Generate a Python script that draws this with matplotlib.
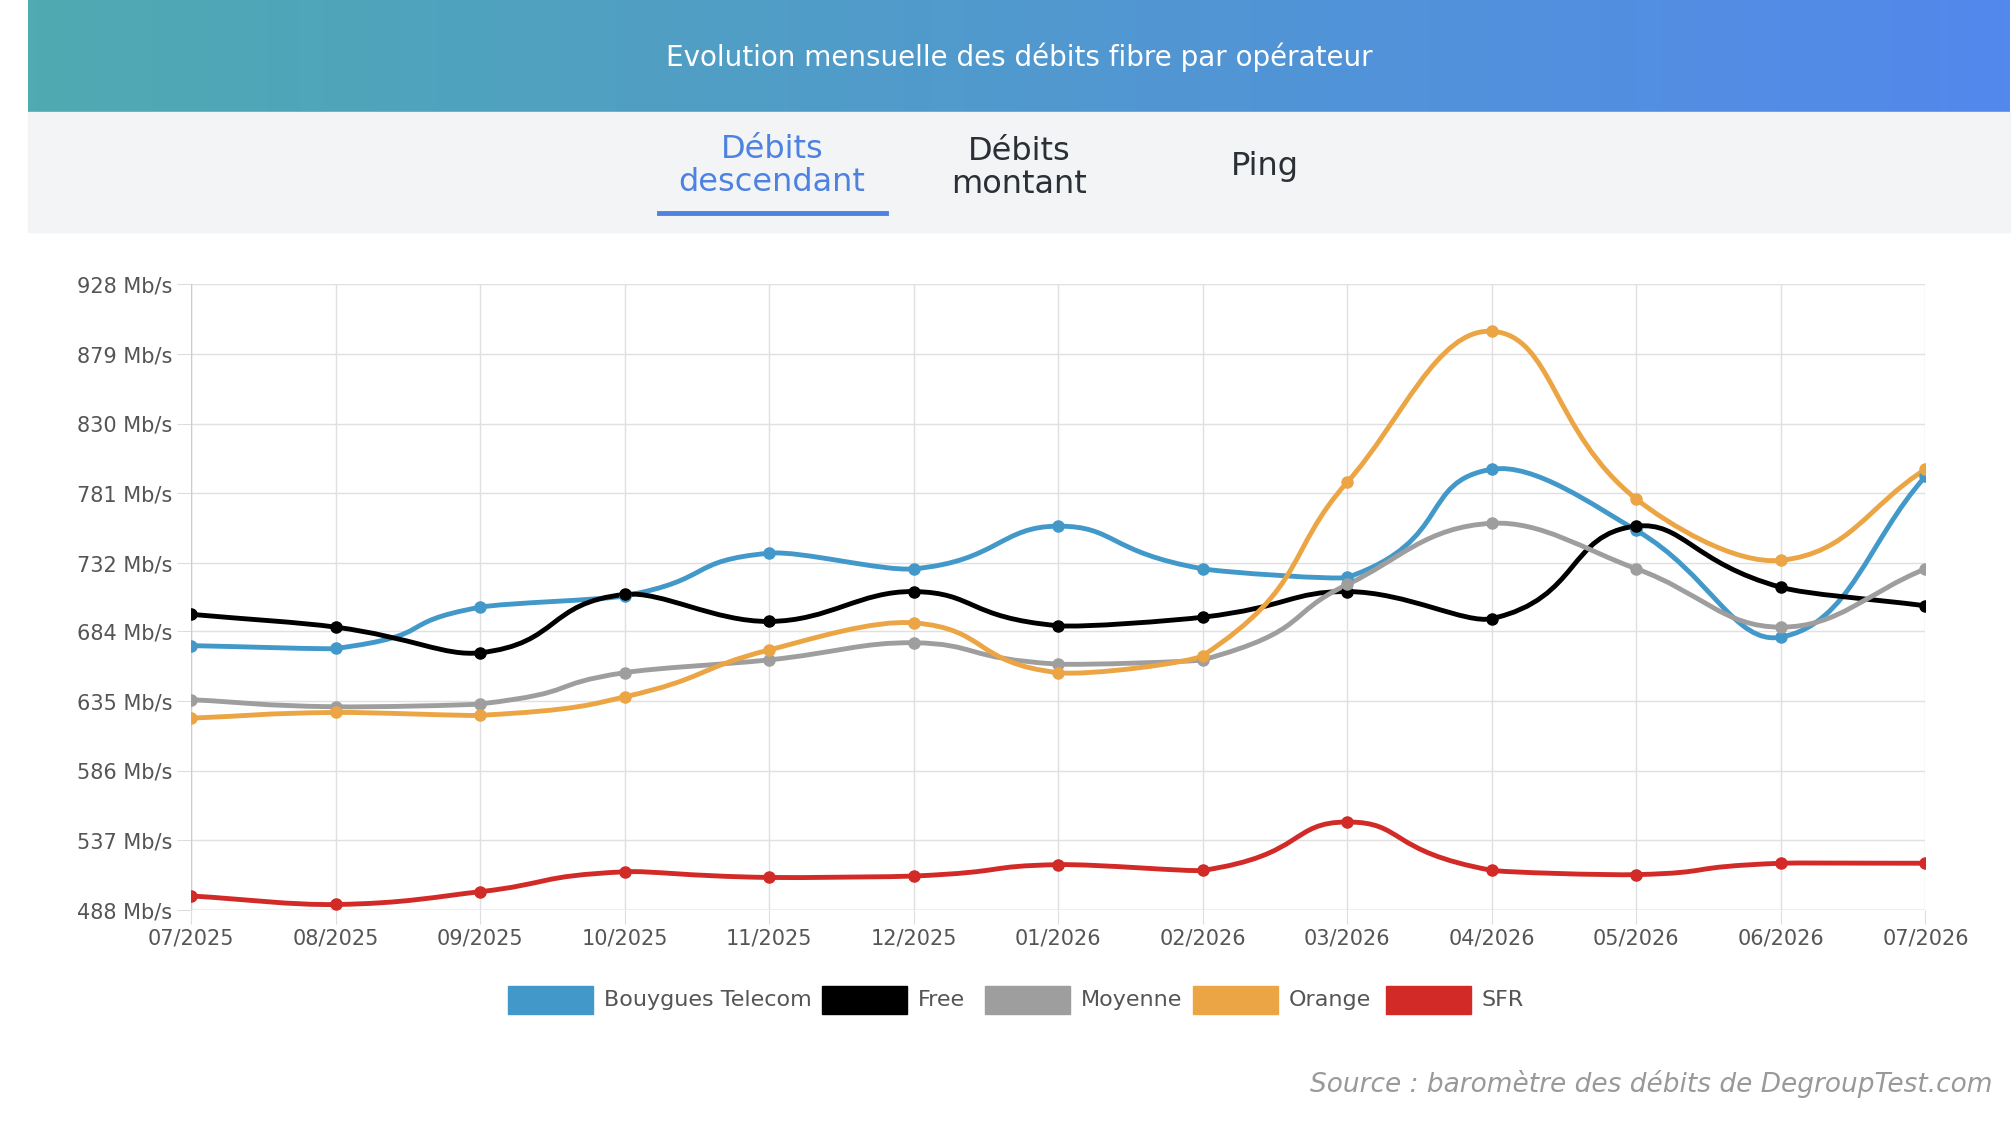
import numpy as np
import matplotlib.pyplot as plt
from matplotlib.path import Path
from matplotlib.patches import PathPatch, Rectangle
from matplotlib.colors import LinearSegmentedColormap

months = ["07/2025", "08/2025", "09/2025", "10/2025", "11/2025", "12/2025", "01/2026",
          "02/2026", "03/2026", "04/2026", "05/2026", "06/2026", "07/2026"]
bouygues = [674, 672, 701, 709, 739, 728, 758, 728, 722, 798, 755, 680, 793]
free = [696, 687, 669, 710, 691, 712, 688, 694, 712, 693, 758, 715, 702]
moyenne = [636, 631, 633, 655, 664, 676, 661, 664, 717, 760, 728, 687, 728]
orange = [623, 627, 625, 638, 671, 690, 655, 667, 789, 895, 777, 734, 798]
sfr = [498, 492, 501, 515, 511, 512, 520, 516, 550, 516, 513, 521, 521]
yticks = [488, 537, 586, 635, 684, 732, 781, 830, 879, 928]

series = [("Bouygues Telecom", bouygues, "#4299c9"), ("Free", free, "#000000"),
          ("Moyenne", moyenne, "#9e9e9e"), ("Orange", orange, "#eba544"),
          ("SFR", sfr, "#d12a27")]


def smooth_path(x, y, t=0.4):
    # chart.js style bezier control points
    verts = [(x[0], y[0])]
    codes = [Path.MOVETO]
    n = len(x)
    cps = []
    for i in range(n):
        p = (x[max(i - 1, 0)], y[max(i - 1, 0)])
        c = (x[i], y[i])
        nx = (x[min(i + 1, n - 1)], y[min(i + 1, n - 1)])
        d01 = np.hypot(c[0] - p[0], c[1] - p[1])
        d12 = np.hypot(nx[0] - c[0], nx[1] - c[1])
        s01 = d01 / (d01 + d12) if d01 + d12 else 0
        s12 = d12 / (d01 + d12) if d01 + d12 else 0
        fa, fb = t * s01, t * s12
        prev = (c[0] - fa * (nx[0] - p[0]), c[1] - fa * (nx[1] - p[1]))
        nxt = (c[0] + fb * (nx[0] - p[0]), c[1] + fb * (nx[1] - p[1]))
        cps.append((prev, nxt))
    for i in range(1, n):
        verts += [cps[i - 1][1], cps[i][0], (x[i], y[i])]
        codes += [Path.CURVE4] * 3
    return Path(verts, codes)


fig = plt.figure(figsize=(20.12, 11.42), dpi=100)
bg = fig.add_axes([0, 0, 1, 1])
bg.set_xlim(0, 2012)
bg.set_ylim(1142, 0)
bg.axis("off")
cmap = LinearSegmentedColormap.from_list("h", ["#4faab1", "#5388ec"])
bg.imshow(np.linspace(0, 1, 256)[None, :], cmap=cmap, aspect="auto",
          extent=[28, 2010, 112, 0])
bg.add_patch(Rectangle((28, 112), 1982, 120, color="#f3f4f6"))
bg.set_xlim(0, 2012)
bg.set_ylim(1142, 0)
bg.text(1019, 57, "Evolution mensuelle des débits fibre par opérateur", color="white",
        fontsize=20, ha="center", va="center")
bg.text(772, 166, "Débits\ndescendant", color="#4e82e0", fontsize=23, ha="center",
        va="center", linespacing=1.1)
bg.plot([659, 886], [213, 213], color="#4e82e0", lw=3.5)
bg.text(1019, 168, "Débits\nmontant", color="#2b2f36", fontsize=23, ha="center",
        va="center", linespacing=1.1)
bg.text(1265, 167, "Ping", color="#2b2f36", fontsize=23, ha="center", va="center")
bg.text(1993, 1084, "Source : baromètre des débits de DegroupTest.com", color="#999999",
        fontsize=19, style="italic", ha="right", va="center")

ax = fig.add_axes([0.095, 0.203, 0.862, 0.548])
x = np.arange(len(months))
for name, vals, col in series:
    ax.add_patch(PathPatch(smooth_path(x, vals), fill=False, edgecolor=col, lw=3.5, zorder=3))
    ax.plot(x, vals, "o", color=col, ms=8, zorder=4)
ax.set_xlim(0, len(months) - 1)
ax.set_ylim(488, 928)
ax.set_xticks(x, months)
ax.set_yticks(yticks, [f"{v} Mb/s" for v in yticks])
ax.tick_params(labelsize=15, colors="#555555", length=10, color="#dddddd")
ax.tick_params(labelcolor="#555555")
ax.grid(color="#e0e0e0", lw=1)
for s in ax.spines.values():
    s.set_visible(False)
ax.axvline(0, color="#cccccc", lw=1)
ax.axhline(488, color="#cccccc", lw=1)

# legend
lx = [508, 822, 985, 1193, 1386]
for (name, vals, col), px in zip(series, lx):
    bg.add_patch(Rectangle((px, 986), 85, 28, color=col))
    bg.text(px + 96, 1000, name, fontsize=16, color="#555555", va="center")

fig.savefig("out.png")
